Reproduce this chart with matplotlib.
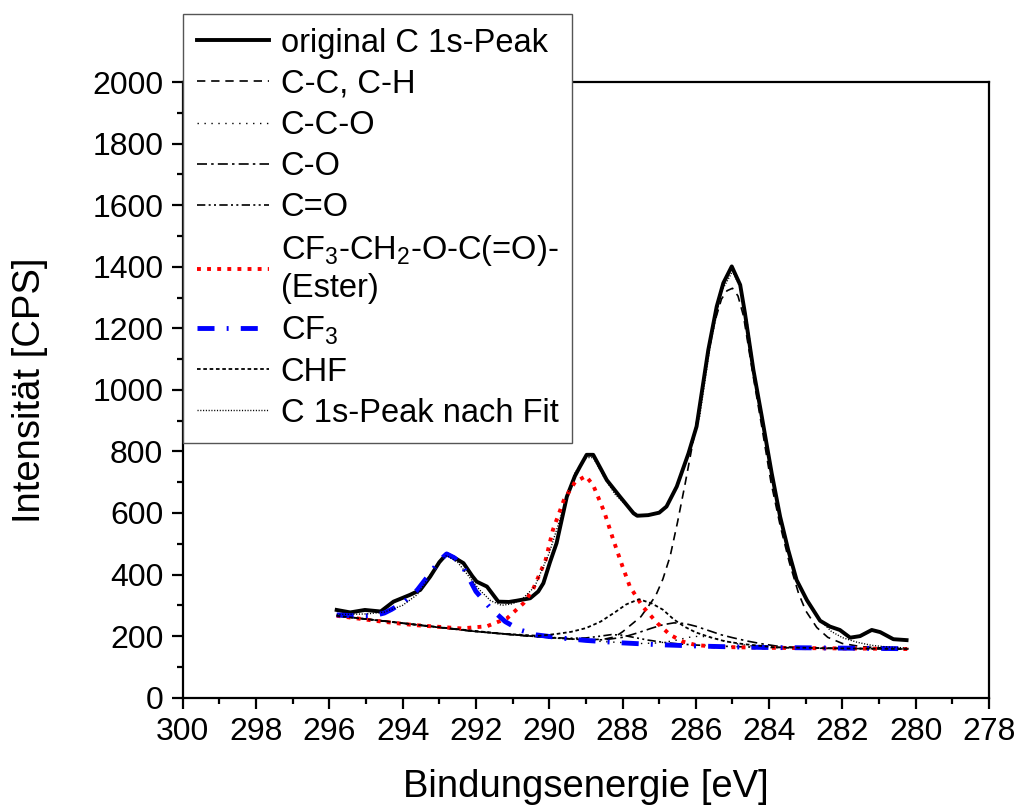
import matplotlib
matplotlib.use('Agg')
import matplotlib.pyplot as plt
from matplotlib.ticker import MultipleLocator

plt.rcParams['font.family'] = ['Liberation Sans', 'DejaVu Sans']
plt.rcParams['mathtext.fontset'] = 'custom'
plt.rcParams['mathtext.rm'] = 'Liberation Sans'
plt.rcParams['mathtext.it'] = 'Liberation Sans:italic'
plt.rcParams['mathtext.bf'] = 'Liberation Sans:bold'

# gemessener C 1s-Peak
be_orig = [295.8, 295.43, 295.03, 294.6, 294.25, 293.8, 293.52, 293.25, 293.0, 292.8,
           292.55, 292.34, 292.1, 291.98, 291.7, 291.39, 291.1, 290.89, 290.52, 290.3,
           290.16, 289.98, 289.8, 289.52, 289.3, 289.16, 288.98, 288.8, 288.6, 288.43,
           288.07, 287.7, 287.6, 287.3, 287.0, 286.8, 286.52, 286.2, 285.98, 285.66,
           285.43, 285.25, 285.02, 284.79, 284.66, 284.43, 284.2, 283.93, 283.7, 283.48,
           283.25, 282.97, 282.61, 282.34, 282.07, 281.79, 281.52, 281.2, 280.97, 280.61,
           280.25]
cps_orig = [285, 277, 285, 280, 312, 334, 350, 393, 440, 467,
            452, 437, 395, 377, 361, 312, 311, 315, 323, 345,
            372, 440, 502, 653, 720, 751, 789, 789, 745, 707,
            653, 599, 591, 593, 601, 621, 686, 794, 881, 1130,
            1271, 1347, 1401, 1341, 1249, 1065, 913, 729, 588, 480,
            382, 317, 250, 231, 220, 195, 200, 220, 213, 190,
            187]

# C-C, C-H
be_cc = [295.8, 295.0, 294.0, 293.0, 292.0, 291.0, 290.0, 289.0, 288.5, 288.2,
         288.0, 287.5, 287.1, 286.9, 286.7, 286.5, 286.3, 286.0, 285.7, 285.5,
         285.3, 285.15, 285.0, 284.85, 284.7, 284.45, 284.2, 283.95, 283.7, 283.45,
         283.2, 283.0, 282.7, 282.4, 282.0, 281.5, 281.0, 280.2]
cps_cc = [266, 256, 242, 228, 215, 204, 195, 188, 190, 198,
          214, 263, 330, 385, 460, 570, 690, 880, 1090, 1215,
          1295, 1322, 1330, 1305, 1240, 1055, 880, 700, 560, 440,
          340, 282, 228, 196, 176, 166, 162, 159]

# C-C-O
be_cco = [295.8, 294.0, 292.0, 290.0, 288.5, 287.5, 287.0, 286.6, 286.2, 285.9,
          285.6, 285.2, 284.8, 284.3, 283.5, 282.5, 281.0, 280.2]
cps_cco = [266, 242, 215, 195, 182, 176, 178, 185, 196, 200,
           196, 184, 173, 166, 162, 160, 159, 158]

# C-O
be_co = [295.8, 294.0, 292.0, 290.0, 289.0, 288.5, 288.0, 287.6, 287.2, 286.9,
         286.6, 286.3, 286.0, 285.6, 285.3, 285.0, 284.6, 284.2, 283.7, 283.0,
         282.0, 281.0, 280.2]
cps_co = [266, 242, 215, 195, 188, 188, 196, 210, 226, 237,
          243, 241, 232, 216, 204, 195, 184, 175, 166, 162,
          160, 159, 158]

# C=O
be_cdo = [295.8, 294.0, 292.0, 290.5, 290.0, 289.5, 289.0, 288.6, 288.3, 288.0,
          287.7, 287.3, 286.9, 286.5, 286.0, 285.0, 284.0, 283.0, 282.0, 281.0,
          280.2]
cps_cdo = [266, 242, 215, 200, 196, 193, 194, 200, 205, 203,
           196, 187, 180, 175, 171, 166, 163, 161, 160, 159,
           158]

# CF3-CH2-O-C(=O)- (Ester)
be_ester = [295.8, 295.4, 294.7, 293.7, 292.4, 291.7, 291.15, 290.7, 290.45, 290.1,
            289.9, 289.6, 289.3, 289.0, 288.8, 288.5, 288.25, 288.0, 287.8, 287.45,
            287.05, 286.7, 286.35, 286.0, 285.5, 285.0, 284.0, 283.0, 282.0, 281.0,
            280.2]
cps_ester = [266, 260, 249, 236, 225, 232, 258, 307, 350, 447,
             545, 642, 700, 720, 690, 604, 512, 426, 361, 296,
             242, 204, 182, 171, 166, 164, 162, 161, 160, 159,
             158]

# CF3
be_cf3 = [295.8, 295.3, 294.8, 294.5, 294.3, 293.95, 293.6, 293.25, 293.0, 292.8,
          292.6, 292.4, 292.2, 292.0, 291.6, 291.2, 290.8, 290.35, 289.6, 289.0,
          288.0, 287.0, 286.0, 285.0, 284.0, 283.0, 282.0, 281.0, 280.2]
cps_cf3 = [269, 266, 266, 275, 287, 312, 350, 404, 445, 467,
           455, 435, 390, 345, 290, 247, 220, 204, 193, 186,
           178, 172, 168, 165, 163, 162, 161, 160, 159]

# CHF
be_chf = [295.8, 294.0, 292.7, 291.3, 290.3, 289.8, 289.4, 289.0, 288.6, 288.2,
          287.9, 287.55, 287.2, 286.9, 286.6, 286.3, 286.0, 285.6, 285.2, 284.7,
          284.2, 283.9, 283.0, 282.0, 281.0, 280.2]
cps_chf = [266, 242, 225, 208, 201, 207, 214, 226, 247, 278,
           303, 320, 306, 286, 254, 230, 212, 196, 183, 174,
           168, 164, 162, 160, 159, 158]

# C 1s-Peak nach Fit
be_fit = [295.8, 295.0, 294.5, 294.0, 293.6, 293.3, 293.0, 292.8, 292.5, 292.2,
          291.9, 291.6, 291.3, 291.0, 290.7, 290.4, 290.0, 289.6, 289.3, 289.0,
          288.8, 288.5, 288.2, 287.9, 287.6, 287.3, 287.0, 286.8, 286.5, 286.2,
          285.9, 285.6, 285.3, 285.0, 284.8, 284.6, 284.4, 284.2, 283.9, 283.7,
          283.5, 283.2, 282.9, 282.6, 282.3, 282.0, 281.6, 281.2, 280.8, 280.2]
cps_fit = [270, 272, 278, 300, 335, 390, 440, 462, 440, 395,
           350, 315, 300, 305, 325, 360, 470, 620, 730, 780,
           780, 715, 660, 625, 595, 593, 600, 620, 690, 800,
           910, 1150, 1320, 1385, 1335, 1220, 1050, 905, 720, 590,
           480, 370, 305, 250, 215, 195, 180, 170, 165, 161]

labels = ['original C 1s-Peak', 'C-C, C-H', 'C-C-O', 'C-O', 'C=O',
          'CF$_3$-CH$_2$-O-C(=O)-\n(Ester)', 'CF$_3$', 'CHF', 'C 1s-Peak nach Fit']

fig = plt.figure(figsize=(10.17, 8.09), dpi=100)
ax = fig.add_axes([0.1797, 0.1376, 0.7928, 0.761])

lines = []
lines += ax.plot(be_orig, cps_orig, color='black', lw=2.8, solid_joinstyle='round')
lines += ax.plot(be_cc, cps_cc, color='black', lw=1.2, dashes=(5, 3.5))
lines += ax.plot(be_cco, cps_cco, color='black', lw=1.0, dashes=(1, 4))
lines += ax.plot(be_co, cps_co, color='black', lw=1.2, dashes=(6, 2.5, 1.5, 2.5))
lines += ax.plot(be_cdo, cps_cdo, color='black', lw=1.2, dashes=(5, 2, 1.2, 2, 1.2, 2))
lines += ax.plot(be_ester, cps_ester, color='red', lw=2.8, dashes=(1.0, 1.6))
lines += ax.plot(be_cf3, cps_cf3, color='blue', lw=3.5, dashes=(3.5, 2.5, 0.4, 2.5))
lines += ax.plot(be_chf, cps_chf, color='black', lw=1.3, dashes=(2, 1.5))
lines += ax.plot(be_fit, cps_fit, color='black', lw=1.0, dashes=(0.8, 1.2))

ax.set_xlim(300, 278)
ax.set_ylim(0, 2000)
ax.xaxis.set_major_locator(MultipleLocator(2))
ax.xaxis.set_minor_locator(MultipleLocator(1))
ax.yaxis.set_major_locator(MultipleLocator(200))
ax.yaxis.set_minor_locator(MultipleLocator(100))
ax.tick_params(which='major', direction='out', length=8, width=1.6, labelsize=23, pad=6)
ax.tick_params(which='minor', direction='out', length=4.5, width=1.6)
for s in ax.spines.values():
    s.set_linewidth(1.6)

ax.set_xlabel('Bindungsenergie [eV]', fontsize=27.5, labelpad=16)
ax.set_ylabel('Intensität [CPS]', fontsize=27.5, labelpad=32)

leg = fig.legend(lines, labels, loc='upper left', bbox_to_anchor=(183 / 1017, 1 - 14 / 809),
                 fontsize=23.5, frameon=True, fancybox=False, framealpha=1,
                 edgecolor='#555555', borderpad=0.42, labelspacing=0.31,
                 handlelength=2.2, handletextpad=0.37, borderaxespad=0)
leg.get_frame().set_linewidth(1.0)

plt.savefig('out.png', dpi=100)
